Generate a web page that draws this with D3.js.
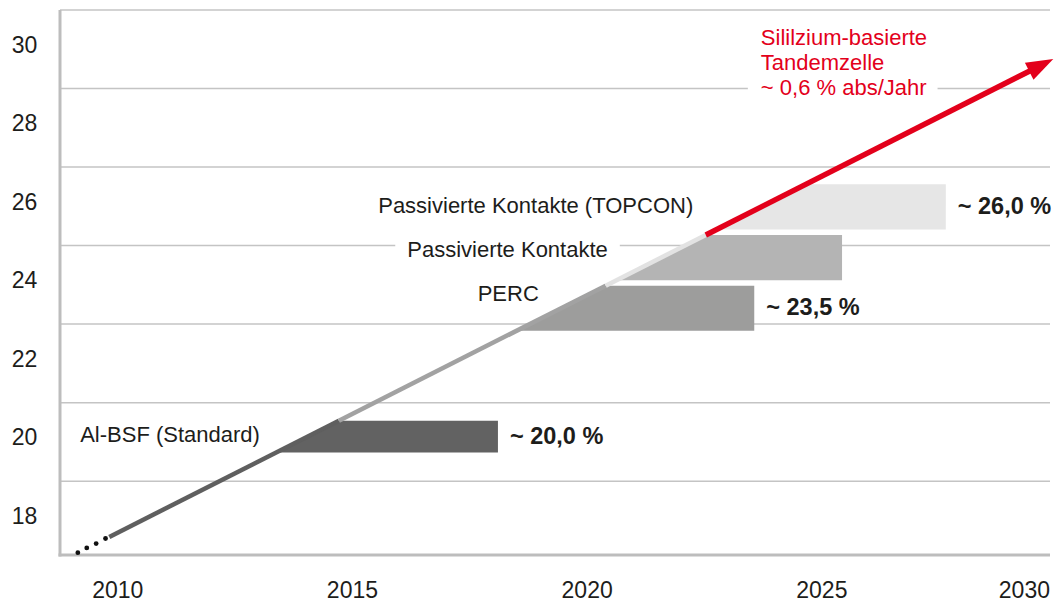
<!DOCTYPE html>
<html>
<head>
<meta charset="utf-8">
<script src="https://cdn.jsdelivr.net/npm/d3@7"></script>
<style>
  html, body { margin: 0; padding: 0; background: #fff; }
  svg { display: block; font-family: "Liberation Sans", Arial, Helvetica, sans-serif; }
</style>
</head>
<body>
<div id="frame"></div>
<script>
//values
const tickYears = [2010, 2015, 2020, 2025, 2030]
const tickValues = [18, 20, 22, 24, 26, 28, 30]
const gridValues = [19, 21, 23, 25, 27, 29, 31]

const techs = ["Al-BSF (Standard)", "PERC", "Passivierte Kontakte", "Passivierte Kontakte (TOPCON)"]
const barLow = [19.73, 22.83, 24.12, 25.41]
const barHigh = [20.54, 23.98, 25.27, 26.56]
const barEndYear = [2018.1, 2023.56, 2025.43, 2027.64]
const valueLabels = ["~ 20,0 %", "~ 23,5 %", "", "~ 26,0 %"]

//trend line (~0,6 % abs/Jahr), start and arrow tip
const trendYears = [2009.82, 2029.93]
const trendValues = [17.58, 29.75]
//dotted lead-in
const dotYears = [2009.15, 2009.34, 2009.54, 2009.74]
const dotValues = [17.18, 17.30, 17.41, 17.54]

const tandemLines = ["Sililzium-basierte", "Tandemzelle", "~ 0,6 % abs/Jahr"]

//styles and layout
const barColors = ["#626262", "#9d9d9c", "#b4b4b4", "#e6e6e6"]
const lineColors = ["#5f5f5f", "#a2a2a2", "#e2e2e2", "#e3001b"]
const red = "#e3001b"
const textColor = "#1d1d1b"
const axisColor = "#bdbdbd"

const width = 1054
const height = 602
const margin = { top: 10, right: 4, bottom: 47, left: 60 }

//where the tech labels sit, in chart units (anchor, year, value of baseline)
const techLabelPos = [
  { anchor: "start", t: 2009.2, v: 20.0 },
  { anchor: "end", t: 2018.97, v: 23.59 },
  { anchor: "end", t: 2020.44, v: 24.71 },
  { anchor: "end", t: 2022.26, v: 25.84 }
]
const tandemPos = { t: 2023.7, v: 30.12 }

const svg = d3.select("#frame").append("svg")
  .attr("width", width)
  .attr("height", height)

const x = d3.scaleLinear([2008.77, 2029.86], [margin.left, width - margin.right])
const y = d3.scaleLinear([17.12, 31], [height - margin.bottom, margin.top])

//year at which the trend line reaches a value
const trendYearAt = (v) => trendYears[0] + (v - trendValues[0]) / (trendValues[1] - trendValues[0]) * (trendYears[1] - trendYears[0])
const trendValueAt = (t) => trendValues[0] + (t - trendYears[0]) / (trendYears[1] - trendYears[0]) * (trendValues[1] - trendValues[0])

//grid
svg.append("g").selectAll("line")
  .data(gridValues)
  .join("line")
  .attr("x1", x.range()[0])
  .attr("x2", x.range()[1])
  .attr("y1", d => y(d))
  .attr("y2", d => y(d))
  .attr("stroke", "#c4c4c4")
  .attr("stroke-width", 1.5)

//axes
svg.append("line")
  .attr("x1", x.range()[0]).attr("x2", x.range()[0])
  .attr("y1", y.range()[1]).attr("y2", y.range()[0] + 1.5)
  .attr("stroke", axisColor).attr("stroke-width", 3)
svg.append("line")
  .attr("x1", x.range()[0] - 1.5).attr("x2", x.range()[1])
  .attr("y1", y.range()[0]).attr("y2", y.range()[0])
  .attr("stroke", axisColor).attr("stroke-width", 3)

svg.append("g").selectAll("text")
  .data(tickValues)
  .join("text")
  .attr("x", 24.5)
  .attr("y", d => y(d) - 4.5)
  .attr("text-anchor", "middle")
  .attr("dominant-baseline", "central")
  .attr("font-size", 23)
  .attr("fill", textColor)
  .text(d => d)

svg.append("g").selectAll("text")
  .data(tickYears)
  .join("text")
  .attr("x", d => Math.min(x(d), width - margin.right))
  .attr("y", 598)
  .attr("text-anchor", d => x(d) > width - margin.right ? "end" : "middle")
  .attr("font-size", 23)
  .attr("fill", textColor)
  .text(d => d)

//bars: left edge follows the trend line
svg.append("g").selectAll("path")
  .data(techs)
  .join("path")
  .attr("d", (d, i) => {
    const pts = [
      [x(trendYearAt(barLow[i])), y(barLow[i])],
      [x(trendYearAt(barHigh[i])), y(barHigh[i])],
      [x(barEndYear[i]), y(barHigh[i])],
      [x(barEndYear[i]), y(barLow[i])]
    ]
    return "M" + pts.join("L") + "Z"
  })
  .attr("fill", (d, i) => barColors[i])

//trend line, split where it meets the top of each bar
const breaks = [trendYears[0]].concat(barHigh.slice(0, 3).map(trendYearAt), [trendYears[1]])
const tipX = x(trendYears[1])
const tipY = y(trendValues[1])
const startX = x(trendYears[0])
const startY = y(trendValues[0])
const ang = Math.atan2(tipY - startY, tipX - startX)
const headLen = 27
const headHalf = 9.5

lineColors.forEach((c, i) => {
  let x2 = x(breaks[i + 1])
  let y2 = y(trendValueAt(breaks[i + 1]))
  if (i === lineColors.length - 1) {
    x2 = tipX - Math.cos(ang) * (headLen - 4)
    y2 = tipY - Math.sin(ang) * (headLen - 4)
  }
  svg.append("line")
    .attr("x1", x(breaks[i]))
    .attr("y1", y(trendValueAt(breaks[i])))
    .attr("x2", x2)
    .attr("y2", y2)
    .attr("stroke", c)
    .attr("stroke-width", i === 3 ? 5.5 : 4.5)
})

//arrow head
const bx = tipX - Math.cos(ang) * headLen
const by = tipY - Math.sin(ang) * headLen
svg.append("path")
  .attr("d", "M" + [tipX, tipY] +
    "L" + [bx - Math.sin(ang) * headHalf, by + Math.cos(ang) * headHalf] +
    "L" + [bx + Math.sin(ang) * headHalf, by - Math.cos(ang) * headHalf] + "Z")
  .attr("fill", red)

svg.append("g").selectAll("circle")
  .data(dotYears)
  .join("circle")
  .attr("cx", d => x(d))
  .attr("cy", (d, i) => y(dotValues[i]))
  .attr("r", 2.4)
  .attr("fill", "#111")

//value labels
svg.append("g").selectAll("text")
  .data(valueLabels)
  .join("text")
  .attr("x", (d, i) => x(barEndYear[i]) + 12)
  .attr("y", (d, i) => y((barLow[i] + barHigh[i]) / 2) - 1)
  .attr("dominant-baseline", "central")
  .attr("font-size", 23.5)
  .attr("font-weight", "bold")
  .attr("fill", textColor)
  .text(d => d)

//tech labels, the one on the grid line gets a white box
const techG = svg.append("g")
techs.forEach((t, i) => {
  const p = techLabelPos[i]
  const txt = techG.append("text")
    .attr("x", x(p.t))
    .attr("y", y(p.v))
    .attr("text-anchor", p.anchor)
    .attr("font-size", 22)
    .attr("fill", textColor)
    .text(t)
  if (i === 2) {
    const bb = txt.node().getBBox()
    techG.insert("rect", "text")
      .attr("x", bb.x - 12)
      .attr("y", bb.y)
      .attr("width", bb.width + 24)
      .attr("height", bb.height)
      .attr("fill", "#fff")
  }
})

//tandem annotation
const tandemG = svg.append("g")
const tandemText = tandemG.append("text")
  .attr("x", x(tandemPos.t))
  .attr("y", y(tandemPos.v))
  .attr("font-size", 22)
  .attr("fill", red)
tandemText.selectAll("tspan")
  .data(tandemLines)
  .join("tspan")
  .attr("x", x(tandemPos.t))
  .attr("dy", (d, i) => i === 0 ? 0 : 25.3)
  .text(d => d)
const lastBB = tandemText.selectAll("tspan").nodes()[2].getBBox()
tandemG.insert("rect", "text")
  .attr("x", lastBB.x - 13)
  .attr("y", lastBB.y + 2)
  .attr("width", lastBB.width + 24)
  .attr("height", lastBB.height - 4)
  .attr("fill", "#fff")
</script>
</body>
</html>
